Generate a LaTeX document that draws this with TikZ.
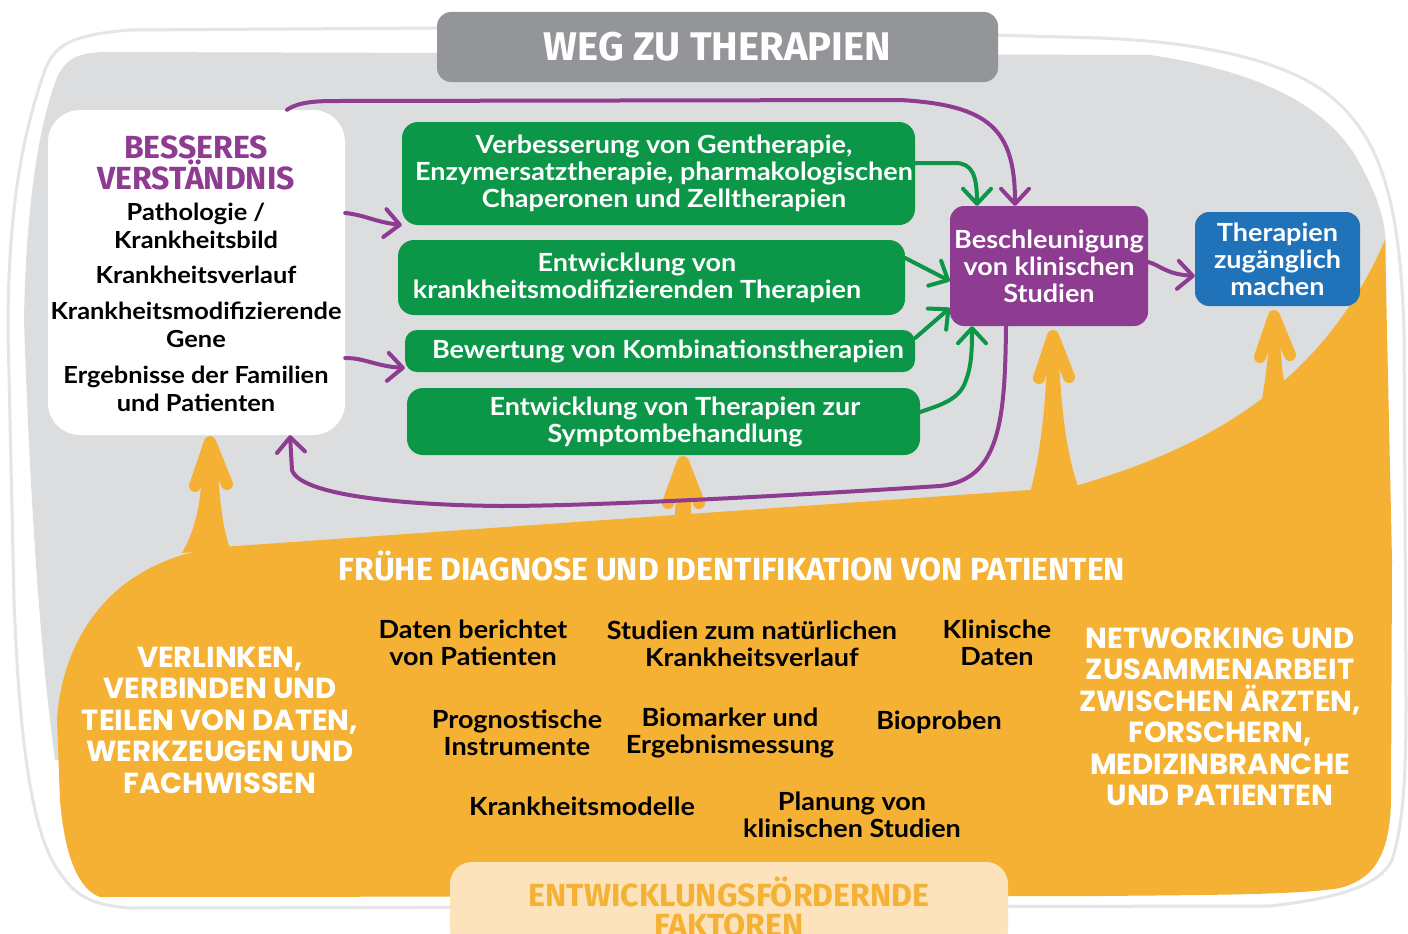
\documentclass[tikz,border=0pt]{standalone}
\usepackage{fontspec}
\setmainfont{Lato}[FakeStretch=1.08]
\newfontfamily\dispfont{Fira Sans}
\newfontfamily\capsfont{Poppins}
\usetikzlibrary{arrows.meta}
\definecolor{bggray}{HTML}{DCDDDE}
\definecolor{titlegray}{HTML}{939598}
\definecolor{rimgray}{HTML}{E4E5E6}
\definecolor{tpurple}{HTML}{8E3B92}
\definecolor{tgreen}{HTML}{0C9648}
\definecolor{tblue}{HTML}{2072B9}
\definecolor{torange}{HTML}{F5B133}
\definecolor{lorange}{HTML}{FCE3BB}
\newcommand{\bodyf}{\fontsize{25}{27}\selectfont\bfseries}
\newcommand{\itemf}{\fontsize{25}{27}\selectfont\bfseries}
\newcommand{\bessf}{\fontsize{23.5}{27.5}\selectfont\bfseries}
\newcommand{\boxf}{\fontsize{25}{27}\selectfont\bfseries}
\newcommand{\dispf}{\dispfont\bfseries\fontsize{32}{30}\selectfont}
\newcommand{\capsf}{\capsfont\bfseries\fontsize{29}{31.5}\selectfont}
\tikzset{
  gbox/.style={fill=tgreen, rounded corners=16, inner sep=0pt},
  gtxt/.style={text=white, align=center, inner sep=0pt, font=\bodyf},
  txt/.style={align=center, inner sep=0pt},
  parrow/.style={draw=tpurple, line width=4pt, line cap=round, -{Straight Barb[length=15pt,width=28pt,round]}},
  garrow/.style={draw=tgreen, line width=4pt, line cap=round, -{Straight Barb[length=15pt,width=28pt,round]}},
  oarrow/.style={draw=torange, line width=12pt, line cap=round, line join=round},
}
\begin{document}
\begin{tikzpicture}[x=1pt,y=-1pt]
\useasboundingbox (0,0) rectangle (1408,934);
\clip (0,0) rectangle (1408,934);
\fill[white] (0,0) rectangle (1408,934);
% outer rim line
\draw[rimgray, line width=3pt] (440,28) -- (130,30) .. controls (70,35) and (55,45) .. (45,70)
  .. controls (20,140) and (8,220) .. (8,330) -- (14,600) .. controls (20,760) and (35,840) .. (60,873)
  .. controls (75,895) and (90,905) .. (130,908) -- (1270,906) .. controls (1340,898) and (1380,885) .. (1392,860)
  .. controls (1405,820) and (1406,760) .. (1406,700) -- (1404,330) .. controls (1400,200) and (1380,140) .. (1335,100)
  .. controls (1290,60) and (1200,42) .. (1100,38) -- (990,35);
% gray area
\fill[bggray] (58,75) .. controls (68,57) and (80,52) .. (110,52) -- (1150,55)
  .. controls (1250,70) and (1320,100) .. (1355,155) .. controls (1378,195) and (1385,220) .. (1386,245)
  -- (1386,760) -- (55,760) .. controls (40,650) and (30,500) .. (24,320) .. controls (26,200) and (40,120) .. (58,75) -- cycle;
% orange area
\fill[torange] (222,547) -- (1072,487) .. controls (1200,450) and (1320,390) .. (1385,240)
  -- (1392,560) -- (1391,800) .. controls (1390,860) and (1370,880) .. (1340,888)
  .. controls (1300,895) and (1200,895) .. (1100,896) -- (100,897)
  .. controls (80,890) and (65,860) .. (60,800) -- (57,720)
  .. controls (62,640) and (110,560) .. (222,547) -- cycle;
% orange arrows
\fill[torange] (202,468) -- (218,468) .. controls (220,510) and (224,530) .. (230,549) -- (182,553) .. controls (195,530) and (201,505) .. (202,468) -- cycle;
\draw[oarrow] (195,486) -- (210,442) -- (227,484);
\draw[oarrow] (210,446) -- (210,480);
\fill[torange] (677,480) -- (690,480) -- (692,530) -- (674,530) -- cycle;
\draw[oarrow] (668,503) -- (683,462) -- (699,503);
\draw[oarrow] (683,466) -- (683,500);
\fill[torange] (1047,360) -- (1059,360) .. controls (1062,420) and (1068,460) .. (1080,492) -- (1025,510) .. controls (1038,470) and (1045,420) .. (1047,360) -- cycle;
\draw[oarrow] (1039,378) -- (1053,336) -- (1069,377);
\draw[oarrow] (1053,340) -- (1053,380);
\fill[torange] (1269,340) -- (1280,340) .. controls (1282,370) and (1284,390) .. (1290,404) -- (1258,420) .. controls (1264,390) and (1267,370) .. (1269,340) -- cycle;
\draw[oarrow] (1260,357) -- (1274,316) -- (1290,355);
\draw[oarrow] (1274,320) -- (1274,360);
% title
\node[fill=titlegray, rounded corners=14, minimum width=561pt, minimum height=70pt, inner sep=0pt,
  text=white, font=\dispfont\bfseries\fontsize{40}{40}\selectfont] (title) at (717.5,47) {WEG ZU THERAPIEN};
% left white box
\node[fill=white, rounded corners=32, minimum width=297pt, minimum height=325pt, inner sep=0pt] (bess) at (196.5,272.5) {};
\node[txt, text=tpurple, font=\dispf] (bessh) at (196,163) {BESSERES\\VERSTÄNDNIS};
\node[txt, font=\bessf] (b1) at (196,226) {Pathologie /\\Krankheitsbild};
\node[txt, font=\bessf] (b2) at (196,275) {Krankheitsverlauf};
\node[txt, font=\bessf] (b3) at (196,325) {Krankheitsmodifizierende\\Gene};
\node[txt, font=\bessf] (b4) at (196,389) {Ergebnisse der Familien\\und Patienten};
% green boxes
\node[gbox, minimum width=513pt, minimum height=103pt] (g1) at (658.5,173.5) {};
\node[gtxt] (g1t) at (664,173.5) {Verbesserung von Gentherapie,\\Enzymersatztherapie, pharmakologischen\\Chaperonen und Zelltherapien};
\node[gbox, minimum width=507pt, minimum height=75pt] (g2) at (651.5,277.5) {};
\node[gtxt] (g2t) at (637,278) {Entwicklung von\\krankheitsmodifizierenden Therapien};
\node[gbox, minimum width=510pt, minimum height=42pt, rounded corners=12] (g3) at (660,351) {};
\node[gtxt] (g3t) at (668,351) {Bewertung von Kombinationstherapien};
\node[gbox, minimum width=513pt, minimum height=67pt] (g4) at (663.5,421.5) {};
\node[gtxt] (g4t) at (675,422) {Entwicklung von Therapien zur\\Symptombehandlung};
% purple and blue boxes
\node[fill=tpurple, rounded corners=14, minimum width=198pt, minimum height=120pt, inner sep=0pt,
  text=white, align=center, font=\boxf] (b) at (1049,266) {Beschleunigung\\von klinischen\\Studien};
\node[fill=tblue, rounded corners=14, minimum width=165pt, minimum height=94pt, inner sep=0pt,
  text=white, align=center, font=\boxf] (t) at (1277.5,259) {Therapien\\zugänglich\\machen};
% purple connectors
\draw[parrow] (bess.east |- 0,213) .. controls (365,215) and (375,222) .. (g1.west |- 0,225);
\draw[parrow] (bess.east |- 0,358) .. controls (365,358) and (375,366) .. (g3.west |- 0,368);
\draw[parrow] (287,0 |- bess.north) .. controls (300,101) and (320,101) .. (340,101) -- (900,100)
  .. controls (990,105) and (1015,130) .. (1015,0 |- b.north);
\draw[parrow] (1006,0 |- b.south) .. controls (1005,420) and (1000,480) .. (940,486)
  .. controls (800,495) and (600,506) .. (500,506) .. controls (400,505) and (300,495) .. (292,470)
  -- (290,0 |- bess.south);
\draw[parrow] (b.east |- 0,262) .. controls (1160,265) and (1165,274) .. (t.west |- 0,276);
% green connectors
\draw[garrow] (g1.east |- 0,163) -- (955,163) .. controls (972,163) and (977,175) .. (977,0 |- b.north);
\draw[garrow] (g2.east |- 0,258) -- (b.west |- 0,281);
\draw[garrow] (g3.east |- 0,338) -- (b.west |- 0,308);
\draw[garrow] (g4.east |- 0,412) .. controls (940,405) and (960,400) .. (966,380) .. controls (972,365) and (972,345) .. (972,0 |- b.south);
% orange region texts
\node[txt, text=white, font=\dispf] (fruehe) at (732,566) {FRÜHE DIAGNOSE UND IDENTIFIKATION VON PATIENTEN};
\node[txt, text=white, font=\capsf] (verl) at (220,720) {VERLINKEN,\\VERBINDEN UND\\TEILEN VON DATEN,\\WERKZEUGEN UND\\FACHWISSEN};
\node[txt, text=white, font=\capsf] (netw) at (1220,717) {NETWORKING UND\\ZUSAMMENARBEIT\\ZWISCHEN ÄRZTEN,\\FORSCHERN,\\MEDIZINBRANCHE\\UND PATIENTEN};
\node[txt, font=\itemf] (i1) at (473,642.5) {Daten berichtet\\von Patienten};
\node[txt, font=\itemf] (i2) at (752,643.5) {Studien zum natürlichen\\Krankheitsverlauf};
\node[txt, font=\itemf] (i3) at (997,642.5) {Klinische\\Daten};
\node[txt, font=\itemf] (i4) at (517,732.5) {Prognostische\\Instrumente};
\node[txt, font=\itemf] (i5) at (730,732.5) {Biomarker und\\Ergebnismessung};
\node[txt, font=\itemf] (i6) at (939,722) {Bioproben};
\node[txt, font=\itemf] (i7) at (582,806) {Krankheitsmodelle};
\node[txt, font=\itemf] (i8) at (852,814.5) {Planung von\\klinischen Studien};
% bottom tab
\node[fill=lorange, rounded corners=22, minimum width=558pt, minimum height=90pt, inner sep=0pt,
  text=torange, align=center, font=\dispf, text depth=0pt] (fak) at (729,907) {ENTWICKLUNGSFÖRDERNDE\\FAKTOREN};
\end{tikzpicture}
\end{document}
